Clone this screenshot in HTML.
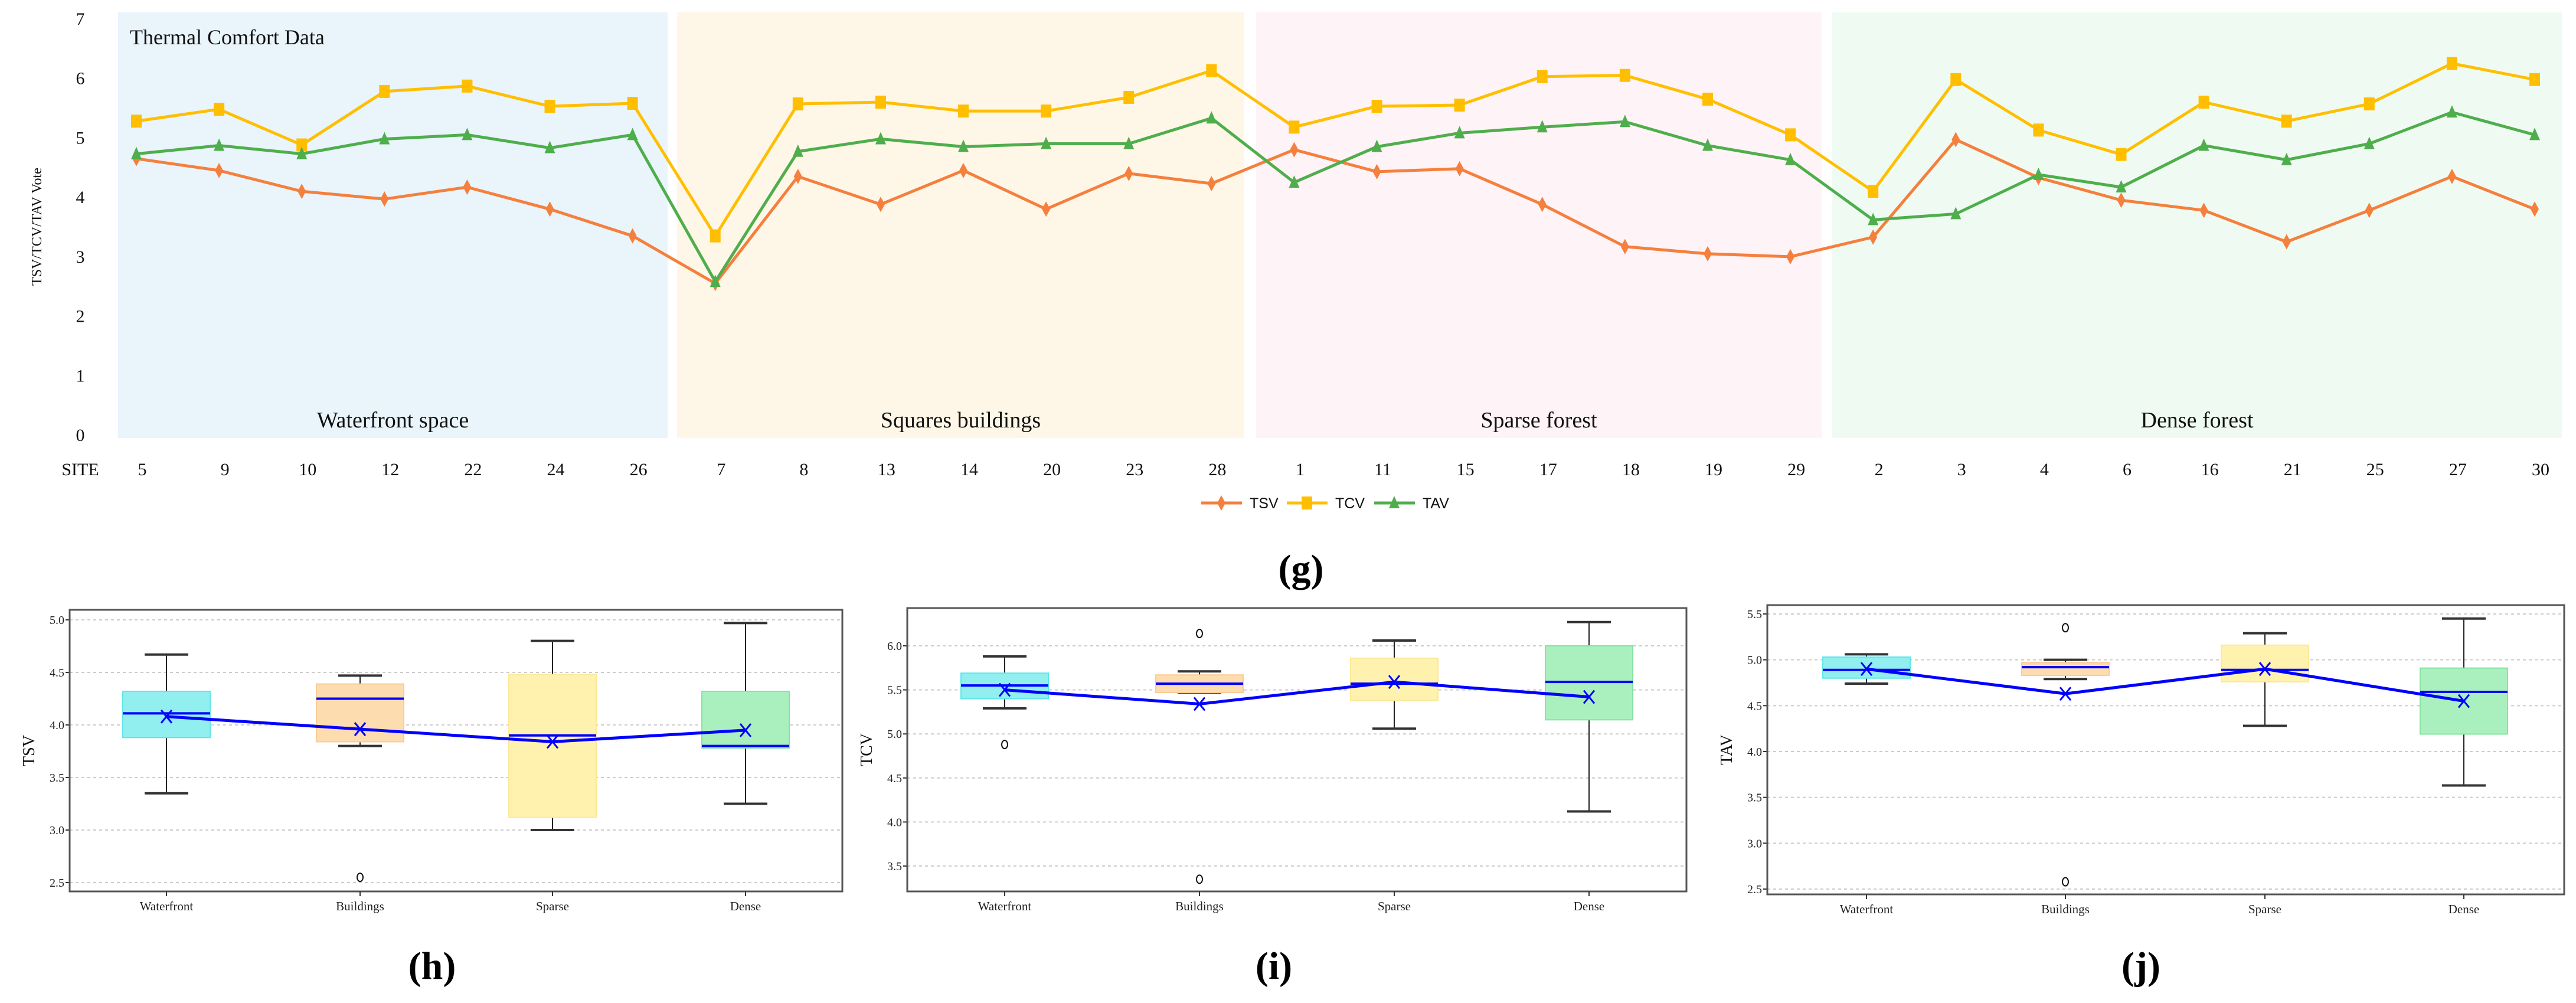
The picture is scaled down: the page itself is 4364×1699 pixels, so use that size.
<!DOCTYPE html>
<html><head><meta charset="utf-8"><style>
html,body{margin:0;padding:0;background:#fff}
svg{display:block}
text{font-family:"Liberation Serif",serif}
text.sans{font-family:"Liberation Sans Narrow","Liberation Sans",sans-serif}
</style></head><body>
<svg id="s" width="4364" height="1699" viewBox="0 0 4364 1699" xmlns="http://www.w3.org/2000/svg">
<g id="top"></g>
<g id="bh"></g>
<g id="bi"></g>
<g id="bj"></g>
</svg>
<script>
const sites = ["5","9","10","12","22","24","26","7","8","13","14","20","23","28","1","11","15","17","18","19","29","2","3","4","6","16","21","25","27","30"];
const tsv = [4.65,4.45,4.1,3.97,4.17,3.8,3.35,2.55,4.35,3.88,4.45,3.8,4.4,4.23,4.8,4.43,4.48,3.88,3.17,3.05,3.0,3.33,4.97,4.33,3.95,3.78,3.25,3.78,4.35,3.8];
const tcv = [5.28,5.48,4.88,5.78,5.87,5.53,5.58,3.35,5.57,5.6,5.45,5.45,5.68,6.13,5.18,5.53,5.55,6.03,6.05,5.65,5.05,4.1,5.98,5.13,4.72,5.6,5.28,5.57,6.25,5.98];
const tav = [4.73,4.87,4.73,4.98,5.05,4.83,5.05,2.58,4.77,4.98,4.85,4.9,4.9,5.33,4.25,4.85,5.08,5.18,5.27,4.87,4.63,3.62,3.72,4.38,4.17,4.87,4.63,4.9,5.43,5.05];
const yTicks = [0,1,2,3,4,5,6,7];
const groupNames = ["Waterfront space","Squares buildings","Sparse forest","Dense forest"];
const cats = ["Waterfront","Buildings","Sparse","Dense"];
const hStats = [[3.35,3.88,4.11,4.32,4.67],[3.8,3.84,4.25,4.39,4.47],[3.0,3.12,3.9,4.48,4.8],[3.25,3.78,3.8,4.32,4.97]];
const hMeans = [4.08,3.96,3.84,3.95];
const hOut = [[],[2.55],[],[]];
const iStats = [[5.29,5.4,5.55,5.69,5.88],[5.47,5.47,5.57,5.67,5.71],[5.06,5.38,5.57,5.86,6.06],[4.12,5.16,5.59,6.0,6.27]];
const iMeans = [5.5,5.34,5.59,5.42];
const iOut = [[4.88],[6.14,3.35],[],[]];
const jStats = [[4.74,4.8,4.89,5.03,5.06],[4.79,4.83,4.92,4.97,5.0],[4.28,4.76,4.89,5.16,5.29],[3.63,4.19,4.65,4.91,5.45]];
const jMeans = [4.9,4.63,4.9,4.55];
const jOut = [[],[5.35,2.58],[],[]];
const hTicks = [2.5,3.0,3.5,4.0,4.5,5.0];
const iTicks = [3.5,4.0,4.5,5.0,5.5,6.0];
const jTicks = [2.5,3.0,3.5,4.0,4.5,5.0,5.5];

const NS="http://www.w3.org/2000/svg";
function mk(p,tag,a,txt){const e=document.createElementNS(NS,tag);for(const k in a)e.setAttribute(k,a[k]);if(txt!==undefined)e.textContent=txt;p.appendChild(e);return e;}

const T=document.getElementById('top');
const X=i=>231+i*(4294-231)/(sites.length-1);
const Y=v=>737-v*(737-32)/7;
const bgs=[[200,1131,"#E9F4FB"],[1147,2108,"#FEF7E8"],[2128,3086,"#FEF3F6"],[3104,4340,"#EFFBF2"]];
bgs.forEach((b,k)=>{
  const r=mk(T,'rect',{x:b[0],y:21,width:b[1]-b[0],height:721,fill:b[2]});
  
  
  const t=mk(T,'text',{x:(b[0]+b[1])/2,y:724,'font-size':38,'text-anchor':'middle',fill:'#111'},groupNames[k]);
  
  
});
let tt=mk(T,'text',{x:220,y:75,'font-size':36,fill:'#111'},"Thermal Comfort Data");


yTicks.forEach(v=>{
  const t=mk(T,'text',{x:136,y:Y(v)+10,'font-size':30,'text-anchor':'middle',fill:'#111'},String(v));
  
  
});
tt=mk(T,'text',{x:0,y:0,'font-size':24,'text-anchor':'middle',fill:'#111',transform:'translate(70,384) rotate(-90)'},"TSV/TCV/TAV Vote");


tt=mk(T,'text',{x:136,y:805,'font-size':30,'text-anchor':'middle',fill:'#111'},"SITE");


sites.forEach((s,i)=>{
  const t=mk(T,'text',{x:X(i)+10,y:805,'font-size':30,'text-anchor':'middle',fill:'#111'},s);
  
  
});
function marker(g,type,x,y,c){
  if(type==='d') return mk(g,'polygon',{points:`${x},${y-13} ${x+7},${y} ${x},${y+13} ${x-7},${y}`,fill:c});
  if(type==='s') return mk(g,'rect',{x:x-9,y:y-11,width:18,height:22,fill:c});
  return mk(g,'polygon',{points:`${x},${y-12} ${x+9},${y+9} ${x-9},${y+9}`,fill:c});
}
const series=[["tsv",tsv,"#F57F3D","d"],["tcv",tcv,"#FFBF00","s"],["tav",tav,"#4FAE4C","t"]];
series.forEach(s=>{
  const g=mk(T,'g',{});
  
  
  const p=mk(g,'polyline',{points:s[1].map((v,i)=>X(i)+','+Y(v)).join(' '),fill:'none',stroke:s[2],'stroke-width':5});
  
  
  s[1].forEach((v,i)=>{const m=marker(g,s[3],X(i),Y(v),s[2]);
    
    });
});
const lg=mk(T,'g',{});


[[2035,"TSV"],[2180,"TCV"],[2328,"TAV"]].forEach((l,k)=>{
  const s=series[k];
  const e=mk(lg,'g',{});
  
  
  mk(e,'line',{x1:l[0],y1:852,x2:l[0]+69,y2:852,stroke:s[2],'stroke-width':5});
  marker(e,s[3],l[0]+34,852,s[2]);
  mk(e,'text',{x:l[0]+82,y:861,'font-size':25,fill:'#111','class':'sans'},l[1]);
});
function caption(txt,x,y,name){const t=mk(document.getElementById('s'),'text',{x:x,y:y,'font-size':66,'font-weight':'bold','text-anchor':'middle',fill:'#000'},txt);
  
  }
caption("(g)",2204,985,'caption-g');

const fills=[["#92EFEF","#5FE6EA"],["#FDDCB0","#FBCB94"],["#FFF1AE","#FDE896"],["#AAF0BE","#86E3A2"]];
function box(gid,L,R,Tp,B,v0,p0,v1,p1,ticks,cx,stats,means,outs,title){
  const G=document.getElementById(gid);
  const Yb=v=>p0+(v-v0)*(p1-p0)/(v1-v0);
  ticks.forEach(v=>{
    const l=mk(G,'line',{x1:L,x2:R,y1:Yb(v),y2:Yb(v),stroke:'#ccc','stroke-width':2,'stroke-dasharray':'5,5'});
    
    
    mk(G,'line',{x1:L-7,x2:L,y1:Yb(v),y2:Yb(v),stroke:'#333','stroke-width':2});
    const t=mk(G,'text',{x:L-9,y:Yb(v)+7,'font-size':20,'text-anchor':'end',fill:'#222'},v.toFixed(1));
    
    
  });
  const fr=mk(G,'rect',{x:L,y:Tp,width:R-L,height:B-Tp,fill:'none',stroke:'#555','stroke-width':3});
  
  
  const yt=mk(G,'text',{x:0,y:0,'font-size':28,'text-anchor':'middle',fill:'#111',transform:`translate(${L-60},${(Tp+B)/2}) rotate(-90)`},title);
  
  
  stats.forEach((s,k)=>{
    const x=cx[k];
    const g=mk(G,'g',{});
    
    
    mk(g,'line',{x1:x,x2:x,y1:Yb(s[0]),y2:Yb(s[4]),stroke:'#222','stroke-width':2});
    mk(g,'line',{x1:x-37,x2:x+37,y1:Yb(s[0]),y2:Yb(s[0]),stroke:'#333','stroke-width':4});
    mk(g,'line',{x1:x-37,x2:x+37,y1:Yb(s[4]),y2:Yb(s[4]),stroke:'#333','stroke-width':4});
    mk(g,'rect',{x:x-74,y:Yb(s[3]),width:148,height:Yb(s[1])-Yb(s[3]),fill:fills[k][0],stroke:fills[k][1],'stroke-width':2});
    mk(g,'line',{x1:x-74,x2:x+74,y1:Yb(s[2]),y2:Yb(s[2]),stroke:'#0000FF','stroke-width':4});
    outs[k].forEach(o=>{const c=mk(g,'ellipse',{cx:x,cy:Yb(o),rx:5,ry:7,fill:'none',stroke:'#111','stroke-width':2});
      
      });
    mk(G,'line',{x1:x,x2:x,y1:B,y2:B+8,stroke:'#333','stroke-width':2});
    const t=mk(G,'text',{x:x,y:B+32,'font-size':21,'text-anchor':'middle',fill:'#222'},cats[k]);
    
    
  });
  const ml=mk(G,'polyline',{points:means.map((m,k)=>cx[k]+','+Yb(m)).join(' '),fill:'none',stroke:'#0000FF','stroke-width':5});
  
  
  means.forEach((m,k)=>{const x=cx[k],y=Yb(m);
    const p=mk(G,'path',{d:`M${x-9},${y-11}L${x+9},${y+11}M${x+9},${y-11}L${x-9},${y+11}`,stroke:'#0000FF','stroke-width':3});
    
    });
}
box('bh',118,1427,1033,1510,5.0,1050,2.5,1495,hTicks,[282,610,936,1263],hStats,hMeans,hOut,"TSV");
box('bi',1537,2857,1030,1510,6.0,1094,3.5,1467,iTicks,[1702,2032,2362,2692],iStats,iMeans,iOut,"TCV");
box('bj',2994,4344,1025,1515,5.5,1040,2.5,1506,jTicks,[3162,3499,3837,4174],jStats,jMeans,jOut,"TAV");
caption("(h)",732,1658,'caption-h');
caption("(i)",2158,1658,'caption-i');
caption("(j)",3627,1658,'caption-j');
</script>
</body></html>
